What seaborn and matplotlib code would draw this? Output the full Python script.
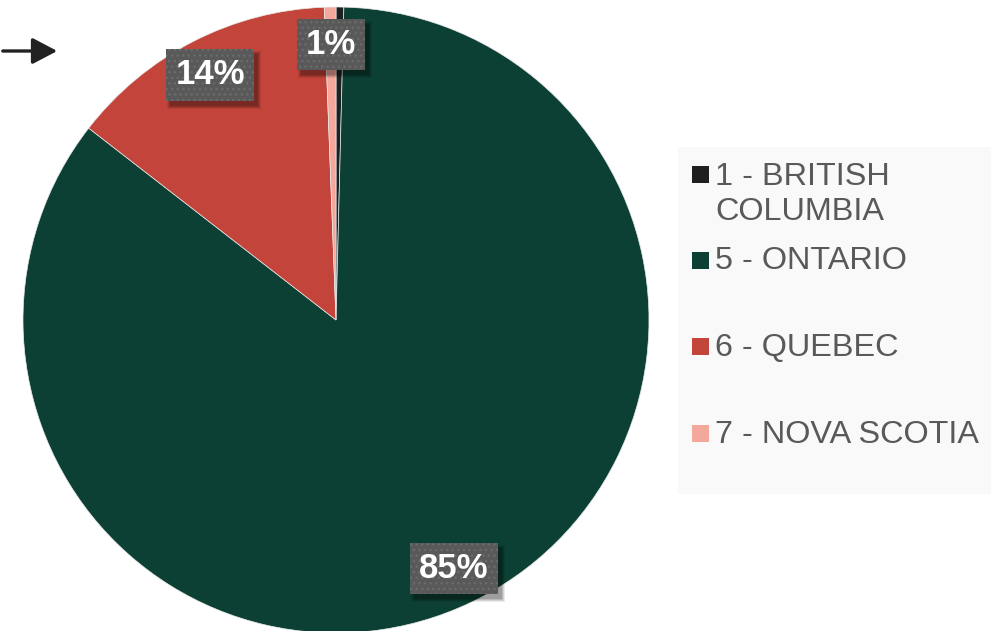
import matplotlib
matplotlib.use("Agg")
import matplotlib.pyplot as plt
from matplotlib.patches import Rectangle, FancyArrowPatch
import seaborn as sns

# Share of records by province
provinces = ["1 - BRITISH\nCOLUMBIA", "5 - ONTARIO", "6 - QUEBEC", "7 - NOVA SCOTIA"]
shares = [0.4, 85.1, 13.9, 0.6]
colors = ["#1f1f1f", "#0d4034", "#c3443a", "#f3a89b"]

sns.set_theme(style="white")
plt.rcParams["font.family"] = ["Liberation Sans", "DejaVu Sans"]

W, H = 1005, 631
fig = plt.figure(figsize=(W / 100, H / 100), dpi=100)

# pie axes: centre at (336, 320) px, radius 313 px
cx, cy, r = 336, 320, 313
ax = fig.add_axes([(cx - r) / W, (H - cy - r) / H, 2 * r / W, 2 * r / H])


def pct_label(p):
    return f"{p:.0f}%" if p >= 0.5 else ""


wedges, _, autotexts = ax.pie(
    shares,
    colors=colors,
    startangle=90,
    counterclock=False,
    radius=1.0,
    autopct=pct_label,
    pctdistance=0.88,
    wedgeprops=dict(linewidth=0.5, edgecolor="#e8e8e8"),
    textprops=dict(color="white", fontsize=25, fontweight="bold"),
)
ax.set_xlim(-1, 1)
ax.set_ylim(-1, 1)
ax.set_aspect("auto")
ax.axis("off")

shown = [t for t in autotexts if t.get_text()]
for t in shown:
    t.set_ha("center")
    t.set_va("center")
    t.set_zorder(6)
    t.set_bbox(dict(boxstyle="square,pad=0.26", facecolor="#595959",
                    edgecolor="#6b6b6b", linewidth=0, hatch="..."))

# soft drop shadow under each value box, above the wedges
fig.canvas.draw()
renderer = fig.canvas.get_renderer()
for t in shown:
    bb = t.get_bbox_patch().get_window_extent(renderer)
    for i, a in enumerate([0.08, 0.10, 0.12, 0.14]):
        grow = 3 - i
        ax.add_patch(Rectangle(
            ((bb.x0 + 4 - grow) / W, (bb.y0 - 5 - grow) / H),
            (bb.width + 2 * grow) / W, (bb.height + 2 * grow) / H,
            transform=fig.transFigure, facecolor="black", edgecolor="none",
            alpha=a, zorder=3, clip_on=False))

# pointer arrow at the upper left
fig.add_artist(FancyArrowPatch(
    (0 / W, 1 - 51 / H), (60 / W, 1 - 51 / H),
    transform=fig.transFigure, arrowstyle="-|>,head_length=0.95,head_width=0.5",
    mutation_scale=16, color="#222222", linewidth=2.4))

# legend panel
fig.add_artist(Rectangle((678 / W, 1 - 494 / H), (991 - 678) / W, (494 - 147) / H,
                         transform=fig.transFigure, facecolor="#f9f9f9",
                         edgecolor="none", zorder=0))

marker_y = [174, 260, 346, 433]
baseline_y = [185, 269, 356, 443]
for label, col, my, by in zip(provinces, colors, marker_y, baseline_y):
    fig.add_artist(Rectangle((692 / W, 1 - (my + 8.5) / H), 17 / W, 17 / H,
                             transform=fig.transFigure, facecolor=col,
                             edgecolor="none"))
    for k, line in enumerate(label.split("\n")):
        fig.text(715 / W, 1 - (by + 35 * k) / H, line, fontsize=23.3,
                 color="#595959", ha="left", va="baseline")

fig.savefig("out.png", dpi=100)
